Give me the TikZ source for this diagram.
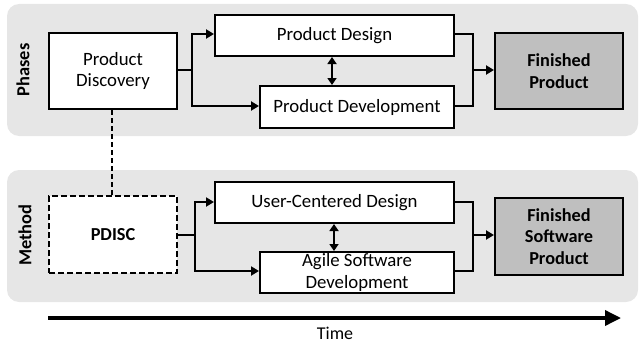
\documentclass[tikz,border=0pt]{standalone}
\usepackage{fontspec}
\setmainfont{Carlito}
\usetikzlibrary{arrows.meta}
\definecolor{panelgray}{HTML}{E6E6E6}
\definecolor{endgray}{HTML}{BFBFBF}
\tikzset{
  panel/.style={fill=panelgray, draw=none, rounded corners=12pt},
  box/.style={draw=black, line width=2pt, fill=white, inner sep=0pt, anchor=north west, align=center,
    font=\fontsize{18.8}{21.5}\selectfont},
  endbox/.style={box, fill=endgray, font=\fontsize{18.3}{21.5}\selectfont\bfseries},
  wire/.style={line width=2pt},
  flow/.style={wire, -{Triangle[length=8pt,width=9pt]}},
  twoway/.style={wire, {Triangle[length=7pt,width=9pt]}-{Triangle[length=7pt,width=9pt]}},
  rowlabel/.style={rotate=90, font=\fontsize{18.4}{21}\selectfont\bfseries},
}
\begin{document}
\begin{tikzpicture}[x=1pt, y=-1pt]
  \useasboundingbox (0,0) rectangle (639,345);
  % background bands
  \fill[panel] (7,4) rectangle (638,136);
  \fill[panel] (7,170) rectangle (638,302);
  \node[rowlabel] (phases) at (23,70) {Phases};
  \node[rowlabel] (method) at (25,235) {Method};

  % phases row
  \node[box, minimum width=128pt, minimum height=76pt] (pd) at (48,32) {Product\\Discovery};
  \node[box, minimum width=239pt, minimum height=41pt] (des) at (214,14) {Product Design};
  \node[box, minimum width=194pt, minimum height=42pt] (dev) at (259,85) {Product Development};
  \node[endbox, minimum width=128pt, minimum height=76pt] (fp) at (494,32) {Finished\\Product};

  % method row
  \node[box, dashed, dash pattern=on 6pt off 3pt, minimum width=128pt, minimum height=77pt,
        font=\fontsize{18.3}{21.5}\selectfont\bfseries] (pdisc) at (48,195) {PDISC};
  \node[box, minimum width=239pt, minimum height=41pt] (ucd) at (214,181) {User-Centered Design};
  \node[box, minimum width=194pt, minimum height=41pt] (agile) at (259,251) {Agile Software\\Development};
  \node[endbox, minimum width=128pt, minimum height=77pt] (fsp) at (494,197) {Finished\\Software\\Product};

  % branching connectors, phases
  \coordinate (s1) at (192,70);
  \coordinate (m1) at (473,70);
  \draw[wire] (pd.east |- s1) -- (s1);
  \draw[flow] (s1) |- (des.west |- 0,34);
  \draw[flow] (s1) |- (dev.west |- 0,106);
  \draw[wire] (des.east |- 0,34) -| (m1);
  \draw[wire] (dev.east |- 0,106) -| (m1);
  \draw[flow] (m1) -- (fp.west |- m1);
  \draw[twoway] (332,0 |- des.south) -- (332,0 |- dev.north);

  % branching connectors, method
  \coordinate (s2) at (195,235);
  \coordinate (m2) at (473,235);
  \draw[wire] (pdisc.east |- s2) -- (s2);
  \draw[flow] (s2) |- (ucd.west |- 0,202);
  \draw[flow] (s2) |- (agile.west |- 0,271);
  \draw[wire] (ucd.east |- 0,202) -| (m2);
  \draw[wire] (agile.east |- 0,271) -| (m2);
  \draw[flow] (m2) -- (fsp.west |- m2);
  \draw[twoway] (334,0 |- ucd.south) -- (334,0 |- agile.north);

  % link between discovery phase and method
  \draw[wire, dash pattern=on 5pt off 3pt] (pd.south -| 112,0) -- (pdisc.north -| 112,0);

  % time axis
  \coordinate (t0) at (48,318);
  \coordinate (t1) at (621,318);
  \draw[line width=3.5pt, -{Triangle[length=16pt,width=15pt]}] (t0) -- (t1);
  \node[font=\fontsize{18}{21}\selectfont] (time) at (335,333) {Time};
\end{tikzpicture}
\end{document}
